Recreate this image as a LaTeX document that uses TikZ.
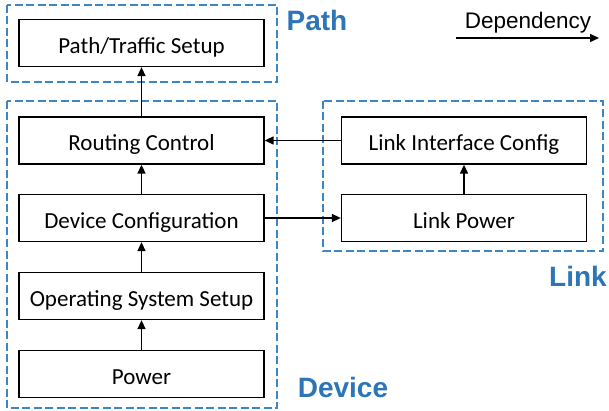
\documentclass[tikz,border=0pt]{standalone}
\usepackage{fontspec}
\setmainfont{Carlito}
\newfontfamily\arialfont{Liberation Sans}
\usetikzlibrary{arrows.meta}
\definecolor{grpblue}{RGB}{61,133,198}
\definecolor{lblblue}{RGB}{46,117,182}

\begin{document}
\begin{tikzpicture}[x=1pt,y=-1pt,
    box/.style={draw,line width=1.3pt,minimum width=245pt,minimum height=47pt,inner sep=0pt,text height=20.5pt,text depth=0pt,font=\fontsize{23}{26}\selectfont},
    grp/.style={draw=grpblue,line width=2.6pt,dash pattern=on 8pt off 3.5pt},
    lbl/.style={text=lblblue,font=\arialfont\bfseries\fontsize{28}{32}\selectfont,inner sep=0pt},
    dep/.style={-{Triangle[length=9pt,width=8pt]},line width=1.5pt}]

    \useasboundingbox (0,0) rectangle (609,411);

    \draw [grp] (7,5) rectangle (277,82);
    \draw [grp] (7,101) rectangle (277,408);
    \draw [grp] (323,101) rectangle (603,251);

    \node [box] (pt) at (141.5, 43) {Path/Traffic Setup};
    \node [box] (rc) at (141.5, 140.5) {Routing Control};
    \node [box] (dc) at (141.5, 218) {Device Configuration};
    \node [box] (os) at (141.5, 296) {Operating System Setup};
    \node [box] (pw) at (141.5, 374) {Power};
    \node [box] (lic) at (464, 140.5) {Link Interface Config};
    \node [box] (lp) at (464, 218) {Link Power};

    \node [lbl] (lpath) at (317, 20) {Path};
    \node [lbl] (llink) at (578, 276) {Link};
    \node [lbl] (ldev) at (343, 387) {Device};

    \node [font=\arialfont\fontsize{22.5}{25}\selectfont,inner sep=0pt,anchor=base] (dtxt) at (528, 28.5) {Dependency};
    \coordinate (d1) at (456, 38);
    \coordinate (d2) at (599, 38);

    \draw [dep] (rc) to (pt);
    \draw [dep] (dc) to (rc);
    \draw [dep] (os) to (dc);
    \draw [dep] (pw) to (os);
    \draw [dep] (lp) to (lic);
    \draw [dep] (lic) to (rc);
    \draw [dep] (dc) to (lp);
    \draw [dep] (d1) to (d2);

\end{tikzpicture}
\end{document}
